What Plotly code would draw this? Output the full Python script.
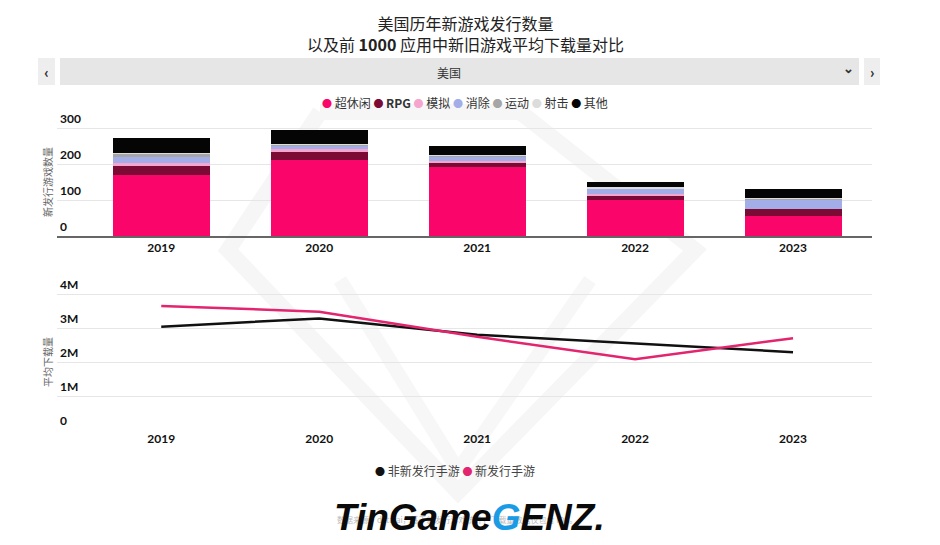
import plotly.graph_objects as go

years = ["2019", "2020", "2021", "2022", "2023"]
genres = ["超休闲", "RPG", "模拟", "消除", "运动", "射击", "其他"]
genre_colors = ["#fa0569", "#7b0a35", "#f4a6cf", "#a3aee8", "#a6a6a6", "#dcdcdc", "#050505"]
counts = {
    "超休闲": [169, 211, 193, 100, 56],
    "RPG":   [26, 23, 11, 11, 18],
    "模拟":   [7, 7, 3, 6, 1],
    "消除":   [18, 9, 13, 13, 25],
    "运动":   [8, 4, 2, 2, 2],
    "射击":   [3, 1, 3, 3, 3],
    "其他":   [41, 39, 25, 16, 26],
}
old_games = [3.04e6, 3.28e6, 2.80e6, 2.55e6, 2.29e6]
new_games = [3.65e6, 3.48e6, 2.74e6, 2.08e6, 2.70e6]
line_names = ["非新发行手游", "新发行手游"]
line_colors = ["#111111", "#e3246f"]
top_ticks = [0, 100, 200, 300]
top_ticktext = ["0", "100", "200", "300"]
bot_ticks = [0, 1e6, 2e6, 3e6, 4e6]
bot_ticktext = ["0", "1M", "2M", "3M", "4M"]

OFF = 8  # page body margin
W, H = 940 - 2 * OFF, 545 - 2 * OFF
L, R = 57 - OFF, 872 - OFF   # plot area in figure pixels
def px(x):  # screen x -> paper
    return (x - OFF - L) / (R - L)
def py(y):  # screen y -> paper
    return 1 - (y - OFF) / H

FONT = "Lato, Noto Sans CJK SC, sans-serif"
CJK = "Noto Sans CJK SC, sans-serif"

fig = go.Figure()
for g, c in zip(genres, genre_colors):
    fig.add_trace(go.Bar(x=years, y=counts[g], name=g, marker=dict(color=c, line=dict(width=0)),
                         xaxis="x", yaxis="y", showlegend=False))
fig.add_trace(go.Scatter(x=years, y=old_games, name=line_names[0], mode="lines",
                         line=dict(color=line_colors[0], width=2.5), xaxis="x2", yaxis="y2", showlegend=False))
fig.add_trace(go.Scatter(x=years, y=new_games, name=line_names[1], mode="lines",
                         line=dict(color=line_colors[1], width=2.5), xaxis="x2", yaxis="y2", showlegend=False))

xr = [-0.66, 4.5]
axis_font = dict(family=FONT, size=12, color="#111111", weight="bold")
top_max = 310
bot_max = 4.1e6
fig.update_layout(
    width=W, height=H,
    margin=dict(l=L, r=W - R, t=0, b=0),
    paper_bgcolor="white", plot_bgcolor="rgba(0,0,0,0)",
    barmode="stack", bargap=0.386,
    xaxis=dict(domain=[0, 1], anchor="y", type="category", range=xr, showgrid=False,
               showline=True, linecolor="#666666", linewidth=1.5, ticks="",
               tickfont=axis_font, fixedrange=True),
    yaxis=dict(domain=[py(236), py(236 - 0.36 * top_max)], anchor="x", range=[0, top_max],
               tickvals=top_ticks, showgrid=True, gridcolor="#e6e6e6", gridwidth=1, zeroline=False,
               showticklabels=False, showline=False),
    xaxis2=dict(domain=[0, 1], anchor="y2", type="category", range=xr, showgrid=False,
                showline=False, ticks="", tickfont=axis_font),
    yaxis2=dict(domain=[py(430), py(430 - 34e-6 * bot_max)], anchor="x2", range=[0, bot_max],
                tickvals=bot_ticks, showgrid=True, gridcolor="#e6e6e6",
                gridwidth=1, zeroline=False, showticklabels=False),
    font=dict(family=FONT),
)

shapes = []
# faint watermark gem
gem = [(320, 112), (520, 112), (695, 250), (458, 492), (228, 250), (320, 112)]
path = "M " + " L ".join(f"{px(x)},{py(y)}" for x, y in gem)
shapes.append(dict(type="path", path=path, xref="paper", yref="paper",
                   line=dict(color="#f6f6f6", width=16), layer="below"))
for (x0, y0, x1, y1) in [(340, 280, 458, 470), (590, 280, 458, 470)]:
    shapes.append(dict(type="line", x0=px(x0), y0=py(y0), x1=px(x1), y1=py(y1), xref="paper", yref="paper",
                       line=dict(color="#f7f7f7", width=14), layer="below"))
# dropdown bar & buttons
shapes.append(dict(type="rect", x0=px(60), x1=px(859), y0=py(85), y1=py(58), xref="paper", yref="paper",
                   fillcolor="#e6e6e6", line=dict(width=0)))
shapes.append(dict(type="rect", x0=px(38), x1=px(55), y0=py(85), y1=py(58), xref="paper", yref="paper",
                   fillcolor="#eeeeee", line=dict(width=0)))
shapes.append(dict(type="rect", x0=px(864), x1=px(880), y0=py(85), y1=py(58), xref="paper", yref="paper",
                   fillcolor="#eeeeee", line=dict(width=0)))
fig.update_layout(shapes=shapes)

ann = []
def add(text, x, y, size, color="#222222", family=CJK, xanchor="center", yanchor="middle", angle=0):
    ann.append(dict(text=text, x=px(x), y=py(y), xref="paper", yref="paper", showarrow=False,
                    font=dict(size=size, color=color, family=family), xanchor=xanchor, yanchor=yanchor,
                    textangle=angle))

# y tick labels sitting above their gridlines
for v, t in zip(top_ticks, top_ticktext):
    ann.append(dict(text=f"<b>{t}</b>", x=px(58), y=v, xref="paper", yref="y", showarrow=False,
                    xanchor="left", yanchor="bottom", yshift=0,
                    font=dict(size=12, color="#111111", family=FONT)))
for v, t in zip(bot_ticks, bot_ticktext):
    ann.append(dict(text=f"<b>{t}</b>", x=px(58), y=v, xref="paper", yref="y2", showarrow=False,
                    xanchor="left", yanchor="bottom", yshift=0,
                    font=dict(size=12, color="#111111", family=FONT)))

# two-line title, anchored at the very top so nothing is clipped
ann.append(dict(text="美国历年新游戏发行数量<br>以及前 <b>1000</b> 应用中新旧游戏平均下载量对比",
                x=px(465), y=1, xref="paper", yref="paper", showarrow=False, xanchor="center",
                yanchor="top", yshift=-1, font=dict(size=16, color="#222222", family=CJK)))
add("美国", 449, 72, 12, "#333333")
add("<b>‹</b>", 46, 71, 16, "#333333", FONT)
add("<b>›</b>", 872, 71, 16, "#333333", FONT)
add("<b>⌄</b>", 848, 68, 13, "#333333", FONT)

leg_parts = []
for g, c in zip(genres, genre_colors):
    lab = f"<b>{g}</b>" if g == "RPG" else g
    leg_parts.append(f"<span style='color:{c};font-size:10px'>●</span> {lab}")
add(" ".join(leg_parts), 465, 103, 12, "#333333")

add("新发行游戏数量", 47, 182, 10, "#666666", angle=-90)
add("平均下载量", 47, 362, 10, "#666666", angle=-90)

leg2 = " ".join(f"<span style='color:{c};font-size:10px'>●</span> {n}" for n, c in zip(line_names, line_colors))
add(leg2, 455, 470, 12, "#444444")

add("数据来源：data.ai，基于新发行游戏统计，下载量数据仅包含 iOS。", 457, 519, 8, "#bbbbbb")
add("<b><i>TinGame<span style='color:#1a9be6'>G</span>ENZ.</i></b>", 470, 517, 37, "#0a0a0a",
    "Liberation Sans, Arial, sans-serif")
fig.update_layout(annotations=ann)

fig.write_html("out.html")
